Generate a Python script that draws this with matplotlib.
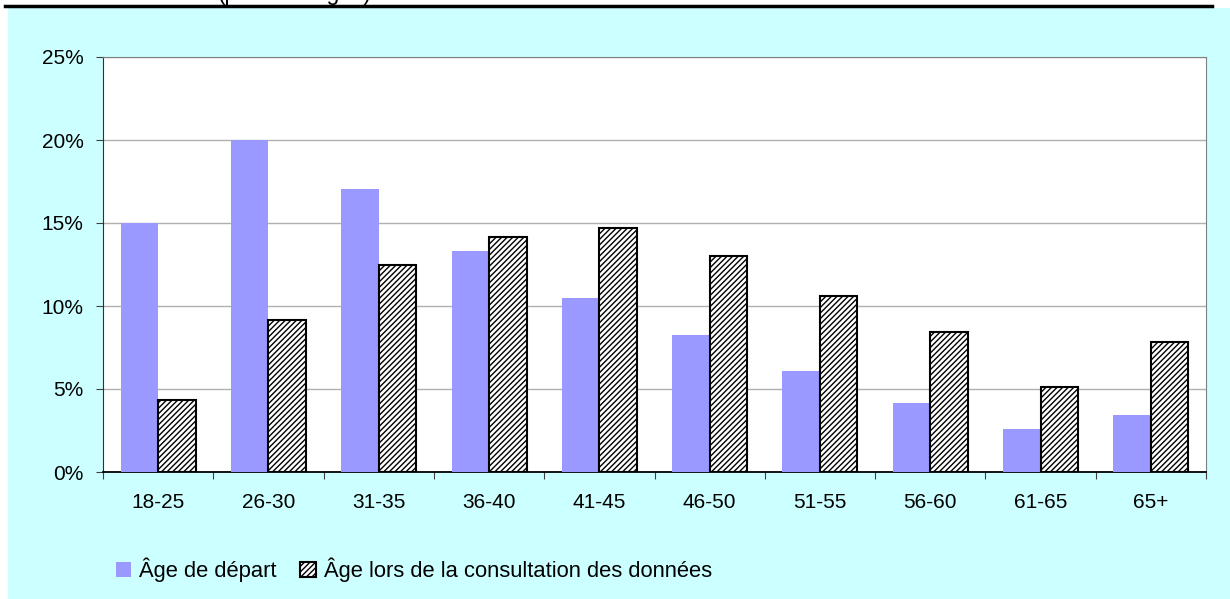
import numpy as np
import matplotlib.pyplot as plt
from matplotlib.patches import Rectangle
from matplotlib.lines import Line2D

plt.rcParams['font.family'] = ['Liberation Sans', 'DejaVu Sans']
plt.rcParams['hatch.linewidth'] = 1.0

# Données
categories = ['18-25', '26-30', '31-35', '36-40', '41-45', '46-50', '51-55', '56-60', '61-65', '65+']
age_depart = [15.0, 20.0, 17.05, 13.3, 10.5, 8.25, 6.1, 4.15, 2.6, 3.45]
age_consultation = [4.35, 9.15, 12.5, 14.15, 14.7, 13.0, 10.6, 8.45, 5.1, 7.85]
yticks = [0, 5, 10, 15, 20, 25]

fig = plt.figure(figsize=(12.3, 5.99), dpi=100)

# Fond cyan et ligne noire en haut
fig.patches.append(Rectangle((8 / 1230, 0), 1, 1 - 8 / 599, transform=fig.transFigure,
                             facecolor='#CCFFFF', edgecolor='none', zorder=-10))
fig.add_artist(Line2D([5 / 1230, 1212 / 1230], [1 - 6 / 599, 1 - 6 / 599],
                      transform=fig.transFigure, color='black', linewidth=2.5))
# titre coupé en haut de l'image
fig.text(218 / 1230, 1.0, '(pourcentages)', fontsize=16.5, va='baseline', ha='left')

ax = fig.add_axes([103 / 1230, 1 - 472 / 599, 1103 / 1230, 415 / 599])
ax.set_facecolor('white')

x = np.arange(len(categories))
w = 0.34
ax.bar(x - w / 2, age_depart, width=w, color='#9999FF', edgecolor='none',
       label='Âge de départ', zorder=3)
ax.bar(x + w / 2, age_consultation, width=w, color='white', edgecolor='black',
       hatch='//////', linewidth=1.5, label='Âge lors de la consultation des données', zorder=3)

ax.set_xlim(-0.5, len(categories) - 0.5)
ax.set_ylim(0, 25)
ax.set_yticks(yticks)
ax.set_yticklabels([f'{v}%' for v in yticks], fontsize=15)
ax.yaxis.grid(True, color='#B0B0B0', linewidth=1, zorder=0)

# graduations entre les catégories, étiquettes au centre
ax.set_xticks(np.arange(len(categories) + 1) - 0.5)
ax.set_xticklabels([])
ax.set_xticks(x, minor=True)
ax.set_xticklabels(categories, minor=True, fontsize=15)
ax.tick_params(axis='x', which='minor', length=0, pad=15)
ax.tick_params(axis='x', which='major', length=5, direction='out', color='#404040')
ax.tick_params(axis='y', length=5, direction='out', color='#404040', pad=9)

for side in ['top', 'right']:
    ax.spines[side].set_color('#808080')
ax.spines['left'].set_color('#303030')
ax.spines['bottom'].set_color('black')
ax.spines['bottom'].set_linewidth(1.3)

fig.legend(loc='center left', bbox_to_anchor=(107 / 1230, 1 - 570 / 599), ncol=2,
           frameon=False, fontsize=15.8, handlelength=0.7, handleheight=0.7,
           handletextpad=0.35, columnspacing=1.1, borderaxespad=0)

fig.savefig('out.png', dpi=100)
